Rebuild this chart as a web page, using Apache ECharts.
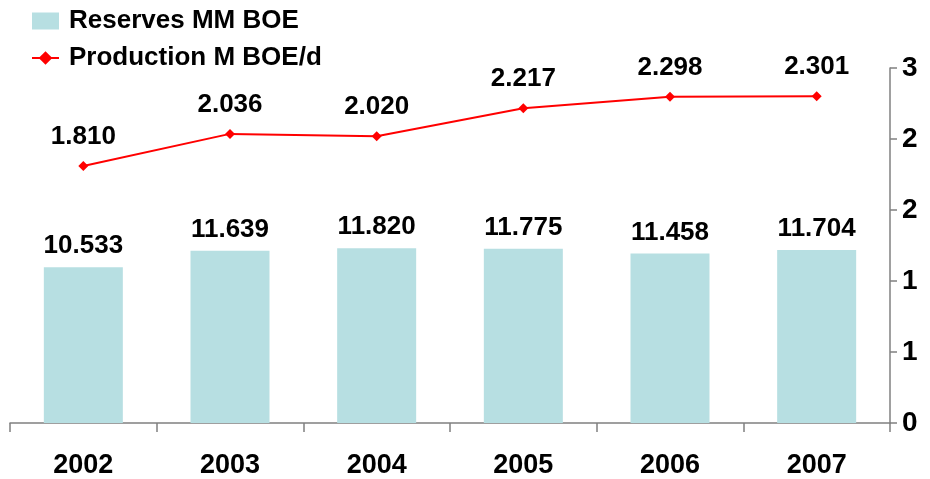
<!DOCTYPE html>
<html>
<head>
<meta charset="utf-8">
<script src="https://cdn.jsdelivr.net/npm/echarts@6/dist/echarts.min.js"></script>
<style>html,body{margin:0;padding:0;background:#fff;}#c{width:930px;height:479px;}</style>
</head>
<body>
<div id="c"></div>
<script>
var years = ['2002', '2003', '2004', '2005', '2006', '2007'];
var reserves = [10.533, 11.639, 11.820, 11.775, 11.458, 11.704];
var production = [1.810, 2.036, 2.020, 2.217, 2.298, 2.301];
var rightTicks = [0, 0.5, 1, 1.5, 2, 2.5];

var FONT = '"Liberation Sans", Arial, sans-serif';
var chart = echarts.init(document.getElementById('c'));
chart.setOption({
  backgroundColor: '#ffffff',
  animation: false,
  textStyle: { fontFamily: FONT },
  legend: {
    orient: 'vertical',
    left: 26,
    top: 3,
    itemWidth: 27,
    itemHeight: 17,
    itemGap: 11,
    textStyle: { fontSize: 26, fontWeight: 'bold', color: '#000', fontFamily: FONT, padding: [0, 0, 0, 5] },
    data: [
      { name: 'Reserves MM BOE', icon: 'rect' },
      { name: 'Production M BOE/d' }
    ]
  },
  grid: { left: 10, right: 40, top: 68, bottom: 56 },
  xAxis: {
    type: 'category',
    data: years,
    boundaryGap: true,
    axisLine: { lineStyle: { color: '#808080', width: 1.5 } },
    axisTick: { show: true, length: 9, alignWithLabel: false, lineStyle: { color: '#808080', width: 1.5 } },
    axisLabel: { color: '#000', fontSize: 27, fontWeight: 'bold', margin: 29, fontFamily: FONT }
  },
  yAxis: [
    {
      type: 'value', min: 0, max: 24, show: false, splitLine: { show: false }
    },
    {
      type: 'value', position: 'right', min: 0, max: 2.5, interval: 0.5,
      axisLine: { show: true, lineStyle: { color: '#808080', width: 1.5 } },
      axisTick: { show: true, length: 7, lineStyle: { color: '#808080', width: 1.5 } },
      splitLine: { show: false },
      axisLabel: {
        color: '#000', fontSize: 28, fontWeight: 'bold', margin: 12, fontFamily: FONT,
        formatter: function (v) { return String(Math.round(v + 1e-9)); }
      }
    }
  ],
  series: [
    {
      name: 'Reserves MM BOE',
      type: 'bar',
      yAxisIndex: 0,
      data: reserves,
      barWidth: 79,
      itemStyle: { color: '#B7DFE2' },
      label: {
        show: true, position: 'top', distance: 8,
        color: '#000', fontSize: 26, fontWeight: 'bold', fontFamily: FONT,
        formatter: function (p) { return p.value.toFixed(3); }
      }
    },
    {
      name: 'Production M BOE/d',
      type: 'line',
      yAxisIndex: 1,
      data: production,
      symbol: 'diamond',
      symbolSize: 10,
      lineStyle: { color: '#FF0000', width: 2 },
      itemStyle: { color: '#FF0000' },
      label: {
        show: true, position: 'top', distance: 11,
        color: '#000', fontSize: 26, fontWeight: 'bold', fontFamily: FONT,
        formatter: function (p) { return p.value.toFixed(3); }
      }
    }
  ]
});
</script>
</body>
</html>
